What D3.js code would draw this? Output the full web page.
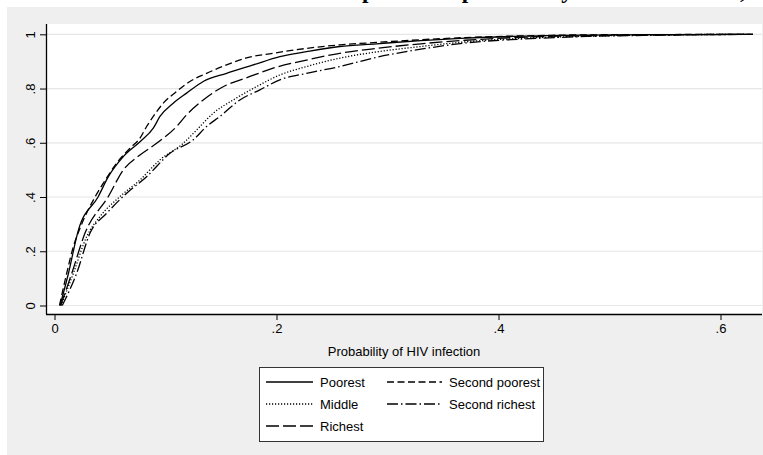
<!DOCTYPE html>
<html><head><meta charset="utf-8">
<script src="https://cdn.jsdelivr.net/npm/d3@7"></script>
<style>
html,body{margin:0;padding:0;background:#fff;}
svg{display:block;}
</style></head>
<body>
<svg id="c" width="763" height="455" font-family="'Liberation Sans',Arial,sans-serif"></svg>
<script>
// ---- data ----
const titleText = "Cumulative distribution of predicted probability of HIV infection, 2004";
const xLabel = "Probability of HIV infection";
const xTicks = [0, 0.2, 0.4, 0.6];
const yTicks = [0, 0.2, 0.4, 0.6, 0.8, 1];
const seriesNames = ["Poorest", "Second poorest", "Middle", "Second richest", "Richest"];

const poorest = [[0.005,0],[0.0126,0.119],[0.0216,0.279],[0.0395,0.402],[0.0485,0.475],[0.062,0.549],[0.077,0.604],[0.089,0.654],[0.095,0.697],[0.107,0.746],[0.119,0.783],[0.134,0.826],[0.155,0.856],[0.179,0.887],[0.203,0.918],[0.227,0.936],[0.257,0.955],[0.29,0.965],[0.33,0.977],[0.37,0.986],[0.42,0.993],[0.48,0.997],[0.55,0.999],[0.629,1]];
const secondPoorest = [[0.0045,0],[0.011,0.119],[0.017,0.217],[0.023,0.285],[0.0365,0.40],[0.044,0.451],[0.056,0.525],[0.068,0.58],[0.077,0.617],[0.083,0.66],[0.089,0.697],[0.098,0.746],[0.110,0.789],[0.122,0.826],[0.137,0.856],[0.155,0.887],[0.172,0.912],[0.197,0.930],[0.227,0.948],[0.257,0.961],[0.29,0.970],[0.33,0.980],[0.37,0.988],[0.42,0.994],[0.48,0.998],[0.55,0.999],[0.629,1]];
const middle = [[0.006,0],[0.017,0.119],[0.029,0.254],[0.041,0.328],[0.059,0.402],[0.077,0.463],[0.095,0.537],[0.116,0.598],[0.128,0.647],[0.143,0.709],[0.161,0.758],[0.182,0.807],[0.203,0.850],[0.227,0.881],[0.257,0.912],[0.29,0.935],[0.33,0.955],[0.37,0.972],[0.42,0.985],[0.48,0.993],[0.55,0.998],[0.629,1]];
const secondRichest = [[0.007,0],[0.020,0.119],[0.032,0.267],[0.047,0.340],[0.065,0.414],[0.083,0.475],[0.104,0.561],[0.125,0.611],[0.137,0.660],[0.149,0.697],[0.167,0.758],[0.185,0.795],[0.203,0.832],[0.227,0.856],[0.257,0.881],[0.29,0.915],[0.33,0.945],[0.37,0.968],[0.42,0.982],[0.48,0.992],[0.55,0.997],[0.629,1]];
const richest = [[0.0055,0],[0.0156,0.119],[0.0275,0.267],[0.0485,0.402],[0.062,0.5],[0.077,0.555],[0.092,0.598],[0.110,0.66],[0.119,0.703],[0.134,0.758],[0.155,0.813],[0.172,0.838],[0.197,0.875],[0.227,0.905],[0.257,0.930],[0.29,0.948],[0.33,0.965],[0.37,0.978],[0.42,0.989],[0.48,0.995],[0.55,0.998],[0.629,1]];

const seriesData = [poorest, secondPoorest, middle, secondRichest, richest];
const dashes = ["none", "7,3.5", "1.2,1.8", "11,3,1.5,3", "13,4"];

// ---- drawing ----
const svg = d3.select("#c");
svg.append("rect").attr("x",0).attr("y",0).attr("width",763).attr("height",455).attr("fill","#ffffff");
svg.append("rect").attr("x",7).attr("y",7).attr("width",756).attr("height",448).attr("fill","#efefef");

// title (clipped at the top of the page, as in the reference)
const title = svg.append("text").attr("y",-2.5)
  .style("font-family","'Liberation Serif','Times New Roman',serif")
  .attr("font-weight","bold").attr("font-size",23.3).attr("fill","#000")
  .attr("x",0).text(titleText);
const idx = titleText.indexOf("predicted");
const off = title.node().getStartPositionOfChar(idx).x;
title.attr("x", 362 - off);

const plot = {left:46, right:762, top:24, bottom:314};
svg.append("rect").attr("x",plot.left).attr("y",plot.top)
  .attr("width",plot.right-plot.left).attr("height",plot.bottom-plot.top).attr("fill","#fff");

const x = d3.scaleLinear().domain([0,0.6]).range([54.5,720.5]);
const y = d3.scaleLinear().domain([0,1]).range([305.5,34.3]);
const fmt = d => d===0 ? "0" : (d===1 ? "1" : d3.format(".1f")(d).replace(/^0/,""));

// gridlines
svg.append("g").selectAll("line").data(yTicks).join("line")
  .attr("x1",plot.left+1).attr("x2",plot.right)
  .attr("y1",d=>y(d)).attr("y2",d=>y(d))
  .attr("stroke","#e6e6e6").attr("stroke-width",1.2);

// y axis
const ya = svg.append("g").attr("transform",`translate(${plot.left},0)`)
  .call(d3.axisLeft(y).tickValues(yTicks).tickSize(6).tickFormat(fmt));
ya.attr("font-family",null).attr("font-size",null);
ya.select(".domain").attr("d",`M0.5,${plot.top}V${plot.bottom}`).attr("stroke","#000");
ya.selectAll(".tick line").attr("stroke","#000");
ya.selectAll(".tick text").attr("font-size",13).attr("fill","#000")
  .attr("x",null).attr("text-anchor","middle")
  .attr("transform","translate(-11.5,0) rotate(-90)").attr("y",0).attr("dy","0");

// x axis
const xa = svg.append("g").attr("transform",`translate(0,${plot.bottom})`)
  .call(d3.axisBottom(x).tickValues(xTicks).tickSize(6).tickFormat(fmt));
xa.attr("font-family",null).attr("font-size",null);
xa.select(".domain").attr("d",`M${plot.left},0.5H${plot.right}`).attr("stroke","#000");
xa.selectAll(".tick line").attr("stroke","#000");
xa.selectAll(".tick text").attr("font-size",13).attr("fill","#000").attr("y",10).attr("dy","0.71em");
svg.selectAll(".domain").attr("stroke-width",1.3);

svg.append("text").attr("x",404).attr("y",356).attr("text-anchor","middle")
  .attr("font-size",13).attr("fill","#000").text(xLabel);

// curves
const line = d3.line().x(d=>x(d[0])).y(d=>y(d[1])).curve(d3.curveMonotoneX);
svg.append("g").selectAll("path").data(seriesData).join("path")
  .attr("d",line).attr("fill","none").attr("stroke","#000").attr("stroke-width",1.3)
  .attr("stroke-dasharray",(d,i)=>dashes[i]);

// legend
const lg = svg.append("g");
lg.append("rect").attr("x",259.5).attr("y",367.5).attr("width",284).attr("height",74)
  .attr("fill","#fff").attr("stroke","#333").attr("stroke-width",1);
const legPos = [[266,382],[387,382],[266,404],[387,404],[266,426]];
const legLen = [47,55,47,55,47];
seriesNames.forEach((n,i)=>{
  const [lx,ly] = legPos[i];
  lg.append("line").attr("x1",lx).attr("x2",lx+legLen[i]).attr("y1",ly).attr("y2",ly)
    .attr("stroke","#000").attr("stroke-width",1.3).attr("stroke-dasharray",dashes[i]);
  lg.append("text").attr("x",lx+legLen[i]+7).attr("y",ly).attr("dy","0.35em")
    .attr("font-size",13).attr("fill","#000").text(n);
});
</script>
</body></html>
